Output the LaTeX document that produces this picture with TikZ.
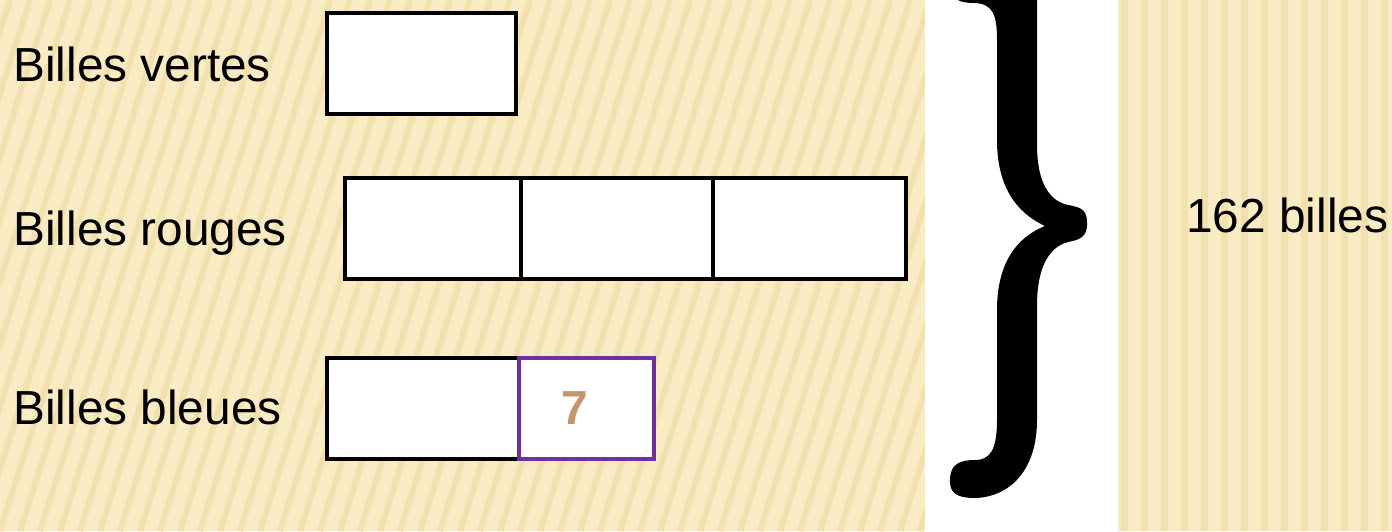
\documentclass[tikz,border=0pt]{standalone}
\usepackage{fontspec}
\setmainfont{Liberation Sans}
\usetikzlibrary{positioning}
\definecolor{paper}{HTML}{F9EBC3}
\definecolor{stripe}{HTML}{F2E1AF}
\definecolor{violet7}{HTML}{7030A0}
\definecolor{tan7}{HTML}{C6966B}

\begin{document}
\begin{tikzpicture}[x=0.02cm,y=-0.02cm,font=\fontsize{27.2}{32}\selectfont,
  bar/.style={draw,line width=2.7pt,fill=white,minimum height=2.02cm,inner sep=0pt,outer sep=0pt},
  label/.style={anchor=base west,inner sep=0pt}]
\useasboundingbox (0,0) rectangle (1392,531);
\clip (0,0) rectangle (1392,531);
% background
\fill[paper] (0,0) rectangle (1392,531);
\begin{scope}
\clip (0,0) rectangle (925,531);
\foreach \x in {-300,-280,...,930}{\draw[stripe,line width=0.12cm] (\x,531) -- (\x+170,0);}
\end{scope}
\foreach \x in {1124,1144,...,1392}{\draw[stripe,line width=0.14cm] (\x,0) -- (\x,531);}
\fill[white] (925,0) rectangle (1118,531);
% labels
\node[label] (tv) at (13,81) {Billes vertes};
\node[label] (tr) at (13,245) {Billes rouges};
\node[label] (tb) at (13,424) {Billes bleues};
\node[label] (tot) at (1186,232) {162 billes};
% bars
\node[bar,minimum width=3.78cm,anchor=north west] (v1) at (327,13) {};
\node[bar,minimum width=3.52cm,anchor=north west] (r1) at (345,178) {};
\node[bar,minimum width=3.84cm,right=0pt of r1] (r2) {};
\node[bar,minimum width=3.86cm,right=0pt of r2] (r3) {};
\node[bar,minimum width=3.84cm,anchor=north west] (b1) at (327,358) {};
\node[bar,draw=violet7,minimum width=2.7cm,right=0pt of b1] (b2) {};
\node[text=tan7,font=\fontsize{27.2}{32}\selectfont\bfseries] (seven) at ([xshift=-0.24cm]b2.center) {7};
% brace
\fill (1087,222) .. controls (1088,238) and (1078,240) .. (1068,242)
  .. controls (1045,248) and (1037,275) .. (1037,305) -- (1037,420)
  .. controls (1037,470) and (1010,497) .. (975,498)
  .. controls (955,498) and (949,492) .. (950,478)
  .. controls (951,464) and (960,460) .. (975,460)
  .. controls (990,460) and (997,450) .. (997,420) -- (997,310)
  .. controls (997,265) and (1015,238) .. (1045,226)
  .. controls (1015,212) and (997,185) .. (997,140) -- (997,40)
  .. controls (997,15) and (993,4) .. (975,3)
  .. controls (960,3) and (952,0) .. (951,-12) -- (951,-30) -- (1037,-30) -- (1037,145)
  .. controls (1037,175) and (1045,200) .. (1068,205)
  .. controls (1078,207) and (1087,208) .. (1087,222) -- cycle;
\end{tikzpicture}
\end{document}
